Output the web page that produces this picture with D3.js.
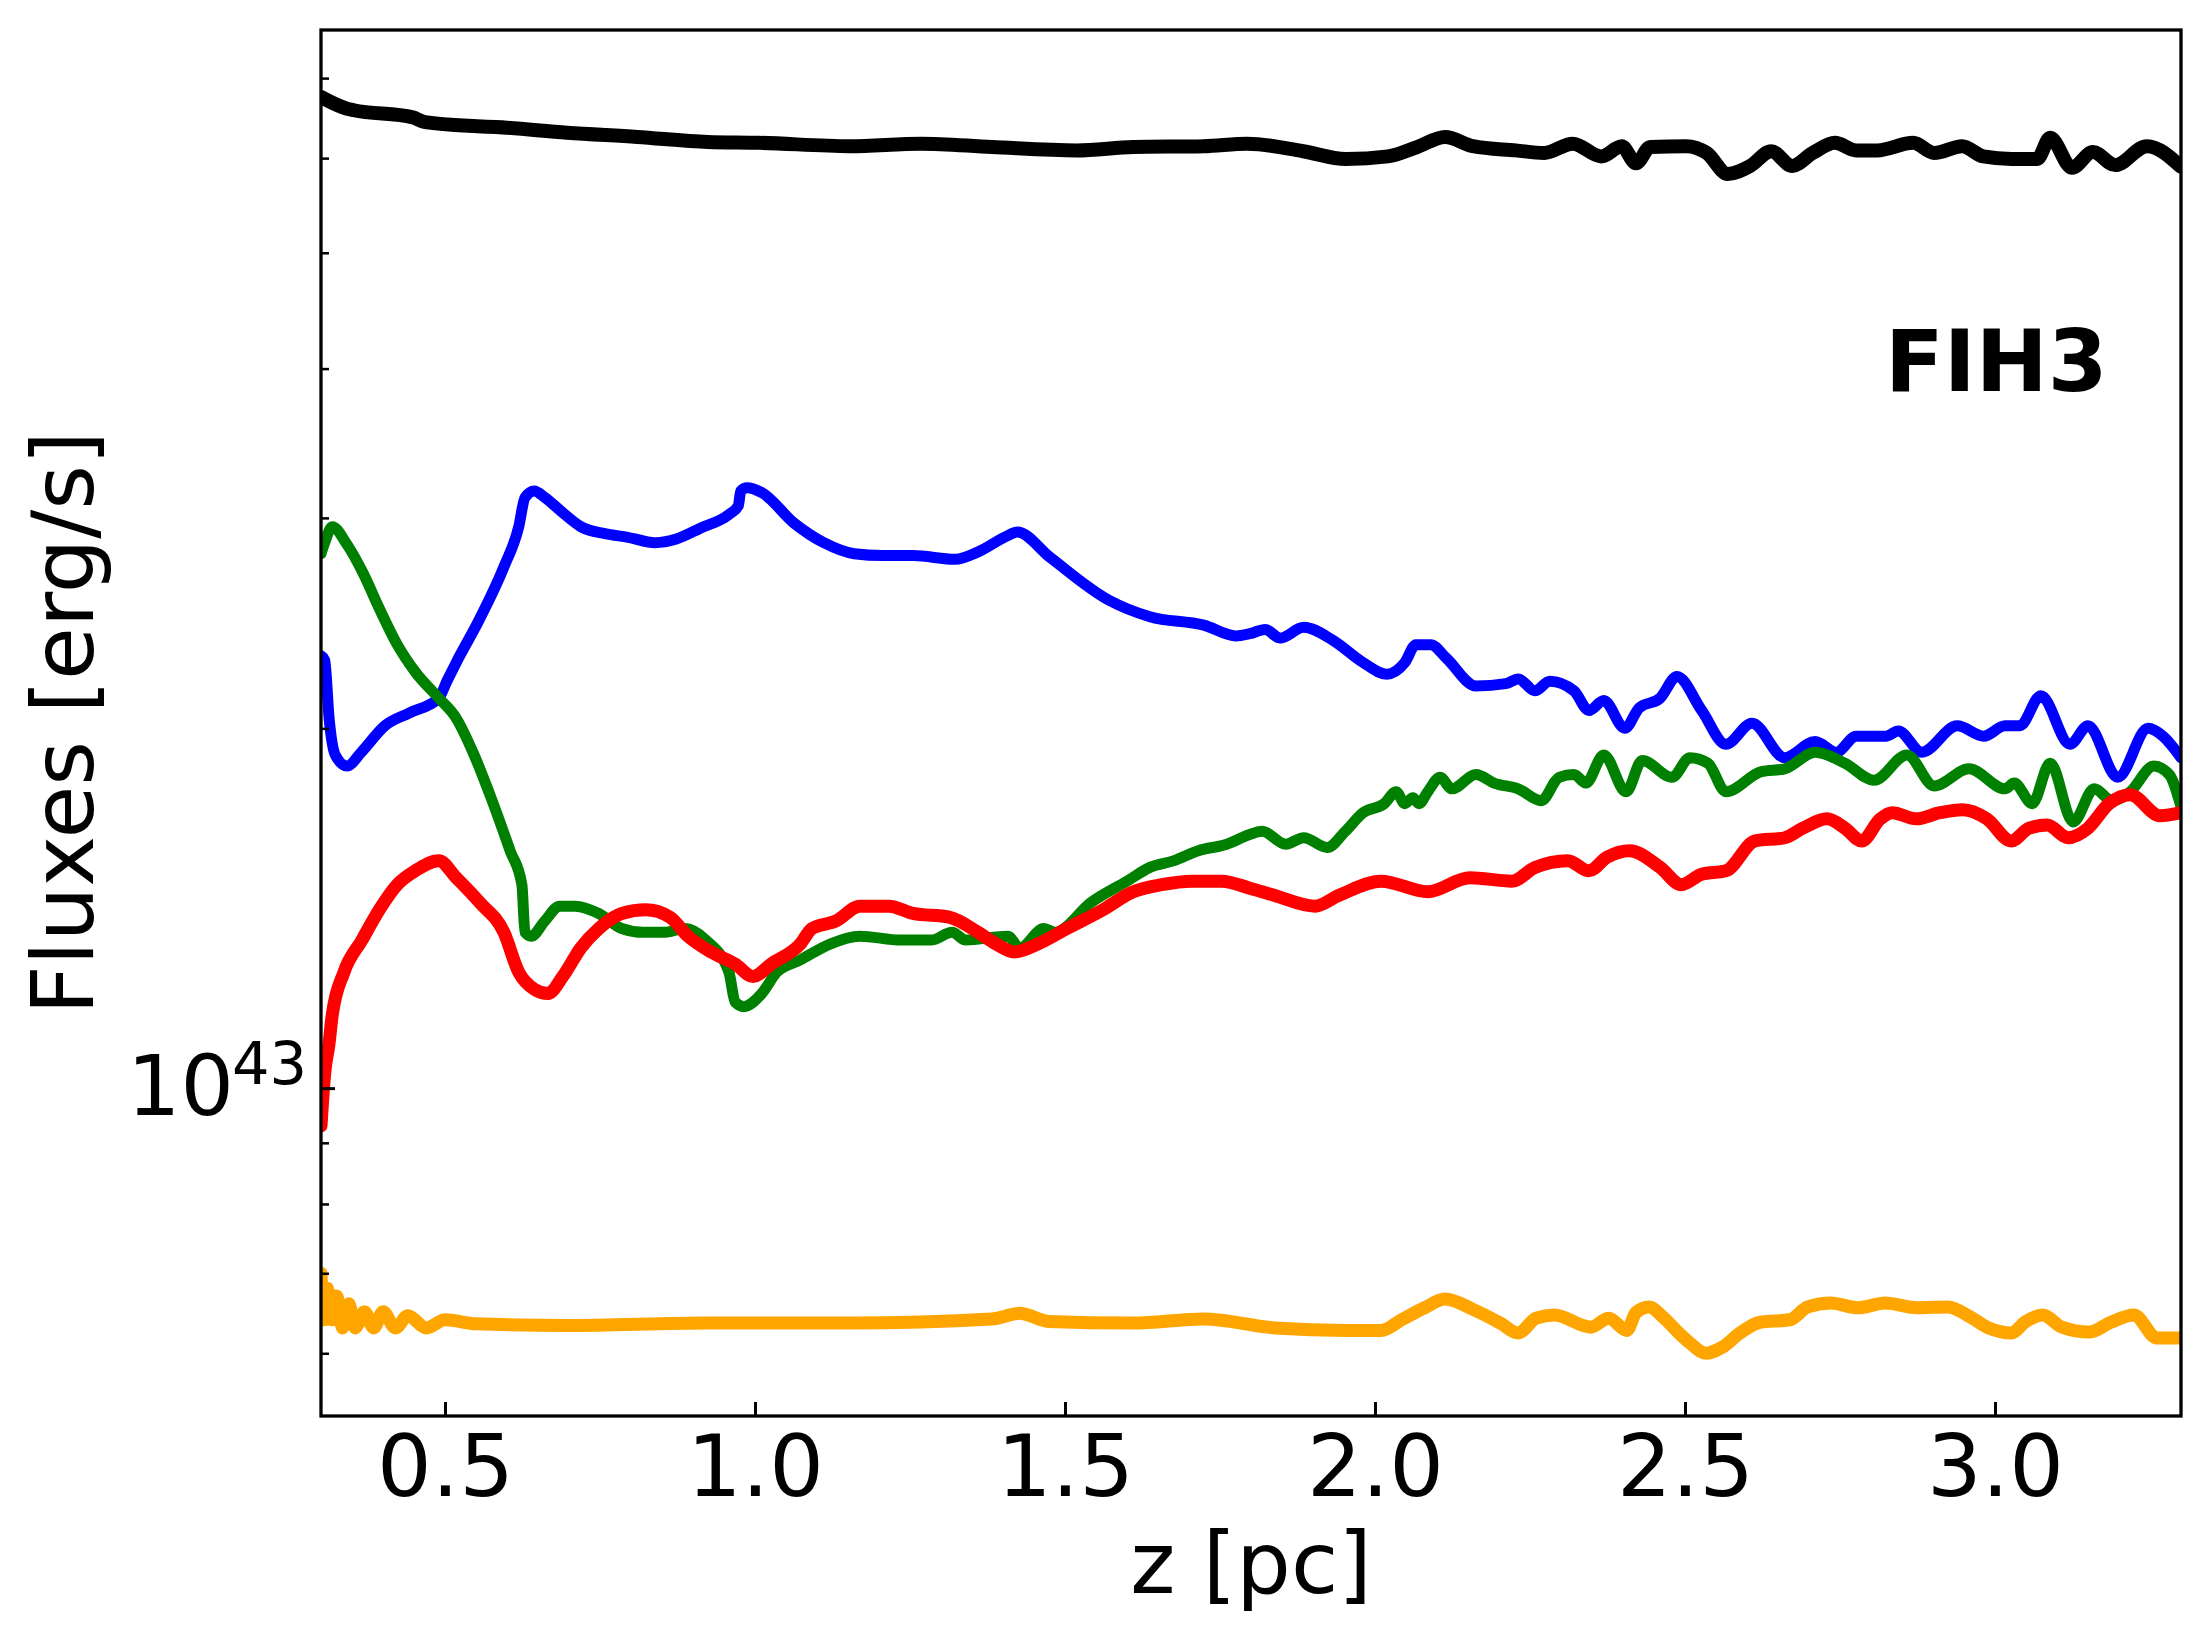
<!DOCTYPE html>
<html>
<head>
<meta charset="utf-8">
<script src="https://cdn.jsdelivr.net/npm/d3@7"></script>
<style>
  body { margin: 0; background: #fff; }
  text { font-family: "DejaVu Sans", sans-serif; fill: #000; }
</style>
</head>
<body>
<svg id="chart" width="2210" height="1639"></svg>
<script>
// fluxes in units of 1e43 erg/s: [z (pc), flux]
const black = [[0.300,6.75],[0.342,6.60],[0.353,6.58],[0.448,6.49],[0.468,6.43],[0.552,6.38],[0.582,6.37],[0.697,6.30],[0.810,6.25],[0.924,6.19],[1.006,6.18],[1.153,6.14],[1.268,6.17],[1.382,6.13],[1.519,6.09],[1.610,6.13],[1.724,6.14],[1.794,6.17],[1.884,6.08],[1.953,5.99],[2.021,6.02],[2.068,6.13],[2.113,6.25],[2.158,6.14],[2.227,6.09],[2.273,6.06],[2.319,6.17],[2.365,6.02],[2.398,6.14],[2.421,5.94],[2.444,6.13],[2.502,6.14],[2.535,6.06],[2.569,5.82],[2.605,5.91],[2.639,6.08],[2.673,5.91],[2.706,6.06],[2.742,6.18],[2.776,6.09],[2.810,6.09],[2.868,6.18],[2.902,6.06],[2.947,6.14],[2.981,6.02],[3.027,5.99],[3.068,5.99],[3.089,6.24],[3.124,5.89],[3.158,6.07],[3.194,5.92],[3.245,6.14],[3.300,5.90]];

const blue = [[0.300,2.30],[0.306,2.28],[0.313,2.04],[0.323,1.90],[0.342,1.86],[0.365,1.91],[0.403,2.01],[0.442,2.06],[0.490,2.12],[0.503,2.19],[0.518,2.27],[0.556,2.47],[0.595,2.73],[0.619,2.95],[0.629,3.12],[0.644,3.16],[0.661,3.12],[0.690,3.03],[0.719,2.95],[0.758,2.91],[0.795,2.89],[0.839,2.86],[0.873,2.88],[0.911,2.94],[0.958,3.02],[0.973,3.07],[0.977,3.16],[0.987,3.18],[1.011,3.15],[1.063,2.97],[1.111,2.86],[1.160,2.80],[1.206,2.79],[1.255,2.79],[1.323,2.77],[1.360,2.81],[1.408,2.90],[1.423,2.92],[1.476,2.78],[1.571,2.56],[1.637,2.48],[1.724,2.44],[1.776,2.39],[1.798,2.40],[1.823,2.42],[1.847,2.38],[1.885,2.43],[1.932,2.37],[1.981,2.27],[2.019,2.22],[2.048,2.27],[2.066,2.35],[2.090,2.35],[2.115,2.29],[2.163,2.17],[2.211,2.18],[2.231,2.20],[2.258,2.15],[2.282,2.19],[2.321,2.15],[2.345,2.07],[2.369,2.11],[2.403,2.00],[2.426,2.08],[2.460,2.12],[2.487,2.21],[2.527,2.07],[2.566,1.94],[2.608,2.02],[2.661,1.89],[2.710,1.95],[2.744,1.91],[2.776,1.97],[2.824,1.97],[2.844,1.99],[2.882,1.91],[2.939,2.01],[2.982,1.97],[3.016,2.01],[3.040,2.01],[3.074,2.13],[3.121,1.94],[3.150,2.01],[3.198,1.82],[3.247,2.00],[3.271,1.97],[3.300,1.89]];

const green = [[0.300,2.80],[0.306,2.86],[0.318,2.95],[0.342,2.85],[0.369,2.69],[0.394,2.52],[0.423,2.35],[0.452,2.23],[0.490,2.12],[0.518,2.04],[0.547,1.90],[0.576,1.74],[0.605,1.58],[0.624,1.48],[0.629,1.35],[0.639,1.34],[0.661,1.38],[0.685,1.42],[0.710,1.42],[0.748,1.40],[0.785,1.36],[0.819,1.35],[0.853,1.35],[0.887,1.36],[0.921,1.33],[0.958,1.25],[0.968,1.18],[0.982,1.17],[1.011,1.20],[1.035,1.25],[1.073,1.28],[1.121,1.32],[1.169,1.34],[1.235,1.33],[1.284,1.33],[1.318,1.35],[1.340,1.33],[1.408,1.34],[1.427,1.31],[1.466,1.36],[1.484,1.35],[1.542,1.43],[1.600,1.49],[1.637,1.53],[1.676,1.55],[1.715,1.58],[1.761,1.60],[1.798,1.63],[1.818,1.64],[1.856,1.60],[1.885,1.62],[1.923,1.59],[1.952,1.64],[1.981,1.70],[2.015,1.73],[2.034,1.77],[2.048,1.73],[2.061,1.75],[2.071,1.73],[2.085,1.77],[2.105,1.82],[2.124,1.78],[2.163,1.83],[2.192,1.80],[2.231,1.78],[2.268,1.74],[2.297,1.82],[2.321,1.83],[2.340,1.80],[2.369,1.90],[2.405,1.77],[2.431,1.88],[2.479,1.82],[2.508,1.89],[2.537,1.87],[2.566,1.77],[2.623,1.84],[2.661,1.85],[2.710,1.91],[2.758,1.87],[2.805,1.81],[2.858,1.90],[2.902,1.79],[2.958,1.85],[3.016,1.78],[3.031,1.80],[3.060,1.73],[3.089,1.87],[3.126,1.67],[3.160,1.78],[3.189,1.74],[3.218,1.77],[3.256,1.86],[3.281,1.83],[3.300,1.72]];

const red = [[0.300,0.93],[0.306,1.03],[0.313,1.09],[0.318,1.15],[0.337,1.25],[0.366,1.33],[0.394,1.41],[0.423,1.48],[0.452,1.52],[0.490,1.55],[0.518,1.50],[0.556,1.43],[0.595,1.35],[0.619,1.25],[0.644,1.21],[0.666,1.20],[0.690,1.24],[0.719,1.31],[0.748,1.36],[0.785,1.40],[0.824,1.41],[0.863,1.39],[0.892,1.34],[0.929,1.30],[0.968,1.27],[0.997,1.24],[1.026,1.27],[1.073,1.32],[1.092,1.36],[1.131,1.38],[1.169,1.42],[1.216,1.42],[1.255,1.40],[1.313,1.39],[1.360,1.35],[1.389,1.32],[1.418,1.30],[1.456,1.32],[1.503,1.36],[1.561,1.41],[1.610,1.46],[1.656,1.48],[1.705,1.49],[1.753,1.49],[1.798,1.47],[1.837,1.45],[1.903,1.42],[1.942,1.45],[2.010,1.49],[2.085,1.46],[2.153,1.50],[2.221,1.49],[2.258,1.53],[2.311,1.55],[2.345,1.52],[2.374,1.56],[2.411,1.58],[2.460,1.53],[2.494,1.48],[2.527,1.51],[2.566,1.52],[2.613,1.61],[2.661,1.62],[2.690,1.65],[2.729,1.68],[2.758,1.65],[2.785,1.61],[2.815,1.68],[2.834,1.70],[2.873,1.68],[2.911,1.70],[2.948,1.71],[2.987,1.68],[3.026,1.61],[3.055,1.65],[3.084,1.66],[3.118,1.62],[3.150,1.65],[3.184,1.73],[3.218,1.76],[3.266,1.69],[3.300,1.70]];

const orange = [[0.300,0.70],[0.305,0.64],[0.310,0.68],[0.318,0.64],[0.325,0.67],[0.335,0.63],[0.345,0.66],[0.355,0.63],[0.370,0.65],[0.385,0.63],[0.400,0.65],[0.420,0.63],[0.440,0.645],[0.470,0.63],[0.500,0.64],[0.550,0.635],[0.697,0.633],[0.924,0.636],[1.153,0.636],[1.382,0.641],[1.427,0.648],[1.473,0.638],[1.610,0.636],[1.724,0.641],[1.839,0.630],[1.953,0.627],[2.010,0.627],[2.045,0.641],[2.080,0.655],[2.113,0.666],[2.158,0.653],[2.202,0.636],[2.231,0.624],[2.260,0.642],[2.289,0.646],[2.348,0.631],[2.377,0.642],[2.406,0.627],[2.421,0.649],[2.442,0.656],[2.465,0.643],[2.490,0.624],[2.508,0.612],[2.534,0.600],[2.560,0.607],[2.589,0.624],[2.621,0.637],[2.669,0.640],[2.698,0.656],[2.735,0.661],[2.779,0.655],[2.823,0.661],[2.874,0.655],[2.924,0.656],[2.961,0.643],[2.990,0.630],[3.027,0.624],[3.048,0.637],[3.077,0.646],[3.108,0.631],[3.152,0.625],[3.187,0.637],[3.224,0.646],[3.261,0.618],[3.300,0.618]];

const xTicks = [0.5, 1.0, 1.5, 2.0, 2.5, 3.0];
const yMinorTicks = [6e42, 7e42, 8e42, 9e42, 2e43, 3e43, 4e43, 5e43, 6e43, 7e43];
const yMajorTicks = [1e43];

// the noisier curves look a bit fatter in the original
const series = [
    { data: black, color: "#000000", width: 14 },
    { data: blue, color: "#0000ff", width: 11 },
    { data: green, color: "#008000", width: 11 },
    { data: red, color: "#ff0000", width: 13 },
    { data: orange, color: "#ffa500", width: 13 }
];

const plot = { left: 321, right: 2181, top: 30, bottom: 1416 };
const unit = 1e43;

const x = d3.scaleLinear().domain([0.3, 3.3]).range([plot.left, plot.right]);
const y = d3.scaleLog().domain([5.317e42, 7.68e43]).range([plot.bottom, plot.top]);

const svg = d3.select("#chart");

svg.append("defs").append("clipPath").attr("id", "plotclip")
    .append("rect")
    .attr("x", plot.left).attr("y", plot.top)
    .attr("width", plot.right - plot.left).attr("height", plot.bottom - plot.top);

// curves
const line = d3.line()
    .x(d => x(d[0]))
    .y(d => y(d[1] * unit))
    .curve(d3.curveMonotoneX);

svg.append("g").attr("clip-path", "url(#plotclip)")
    .selectAll("path")
    .data(series)
    .join("path")
    .attr("d", d => line(d.data))
    .attr("fill", "none")
    .attr("stroke", d => d.color)
    .attr("stroke-width", d => d.width)
    .attr("stroke-linejoin", "round")
    .attr("stroke-linecap", "round");

// x axis, ticks pointing inward
const xAxis = svg.append("g")
    .attr("transform", `translate(0,${plot.bottom})`)
    .call(d3.axisBottom(x).tickValues(xTicks).tickFormat(d3.format(".1f"))
        .tickSize(-14).tickPadding(19));
xAxis.select(".domain").remove();
xAxis.selectAll("line").attr("stroke-width", 3);
xAxis.selectAll("text").attr("font-size", 86).attr("font-family", "DejaVu Sans");

// y axis minor + major ticks
const yMinor = svg.append("g")
    .attr("transform", `translate(${plot.left},0)`)
    .call(d3.axisLeft(y).tickValues(yMinorTicks).tickFormat("").tickSize(-8));
yMinor.select(".domain").remove();
yMinor.selectAll("line").attr("stroke-width", 2.5);

const yMajor = svg.append("g")
    .attr("transform", `translate(${plot.left},0)`)
    .call(d3.axisLeft(y).tickValues(yMajorTicks).tickFormat("").tickSize(-14));
yMajor.select(".domain").remove();
yMajor.selectAll("line").attr("stroke-width", 3);

// 10^43 label
yMajorTicks.forEach(v => {
    const ty = y(v);
    svg.append("text")
        .attr("x", plot.left - 87).attr("y", ty + 27)
        .attr("text-anchor", "end")
        .attr("font-size", 84)
        .text("10");
    svg.append("text")
        .attr("x", plot.left - 14).attr("y", ty - 4)
        .attr("text-anchor", "end")
        .attr("font-size", 59)
        .text(Math.round(Math.log10(v)));
});

// frame
svg.append("rect")
    .attr("x", plot.left).attr("y", plot.top)
    .attr("width", plot.right - plot.left).attr("height", plot.bottom - plot.top)
    .attr("fill", "none")
    .attr("stroke", "#000")
    .attr("stroke-width", 3.3);

// axis labels
svg.append("text")
    .attr("x", (plot.left + plot.right) / 2).attr("y", 1593)
    .attr("text-anchor", "middle")
    .attr("font-size", 86)
    .text("z [pc]");

svg.append("text")
    .attr("transform", `translate(93,${(plot.top + plot.bottom) / 2}) rotate(-90)`)
    .attr("text-anchor", "middle")
    .attr("font-size", 86)
    .text("Fluxes [erg/s]");

svg.append("text")
    .attr("x", 1885).attr("y", 391)
    .attr("font-size", 86)
    .attr("font-weight", "bold")
    .text("FIH3");
</script>
</body>
</html>
